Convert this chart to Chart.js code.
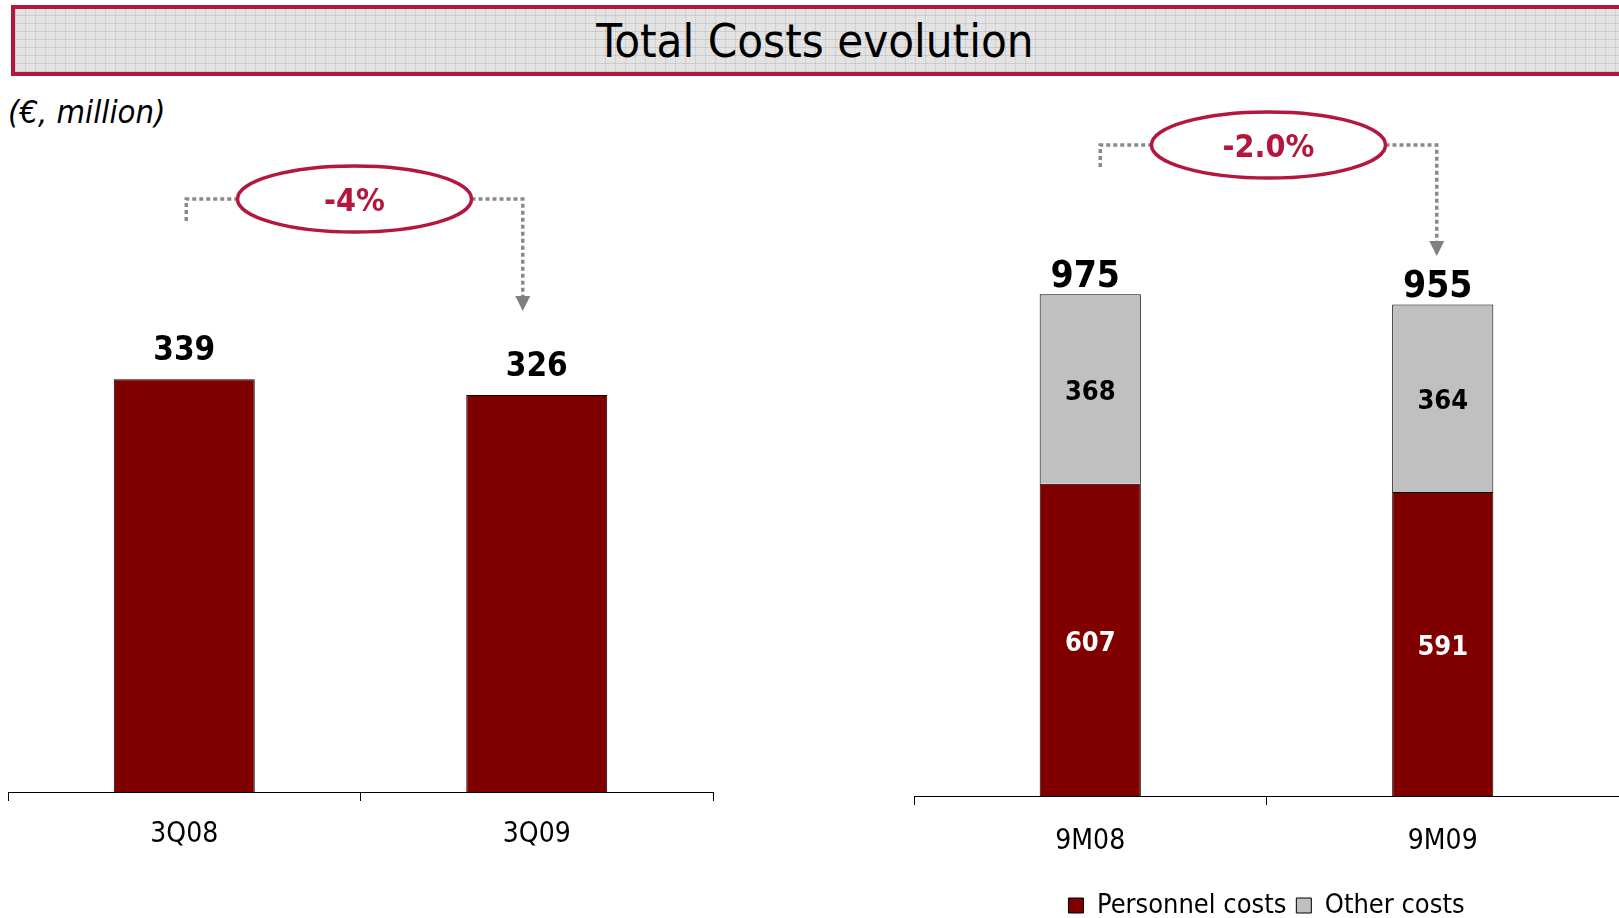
<!DOCTYPE html>
<html>
<head>
<meta charset="utf-8">
<script src="https://cdn.jsdelivr.net/npm/chart.js@4.4.1/dist/chart.umd.min.js"></script>
<style>
  html, body { margin:0; padding:0; background:#fff; overflow:hidden; }
  #page { position:relative; width:1619px; height:918px; overflow:hidden; background:#fff; }
  #titlebar {
    position:absolute; left:11px; top:5px; width:1640px; height:63px;
    border:4px solid #B3173E;
    background-color:#e3e3e3;
    background-image:
      repeating-linear-gradient(0deg, rgba(0,0,0,0.10) 0px, rgba(0,0,0,0.10) 1px, transparent 1px, transparent 8px),
      repeating-linear-gradient(90deg, rgba(0,0,0,0.08) 0px, rgba(0,0,0,0.08) 1px, transparent 1px, transparent 10px);
  }
  #titletext {
    position:absolute; left:0; top:9px; width:1619px; height:63px; line-height:63px;
    text-align:center; font-family:"DejaVu Sans Condensed","DejaVu Sans",sans-serif; font-size:47px; color:#000;
    padding-left:11px; box-sizing:border-box;
  }
  #unit {
    position:absolute; left:8px; top:93px; font-family:"DejaVu Sans Condensed","DejaVu Sans",sans-serif;
    font-style:italic; font-size:32.5px; color:#000;
  }
  canvas { position:absolute; }
  #cL { left:0px; top:80px; }
  #cR { left:900px; top:80px; }
</style>
</head>
<body>
<div id="page">
  <div id="titlebar"></div>
  <div id="titletext">Total Costs evolution</div>
  <div id="unit">(€, million)</div>
  <canvas id="cL" width="720" height="838"></canvas>
  <canvas id="cR" width="719" height="860"></canvas>
</div>
<script>
// ---- data ----
const quarterLabels = ['3Q08', '3Q09'];
const quarterTotals = [339, 326];
const quarterChange = '-4%';

const ninemLabels = ['9M08', '9M09'];
const personnelCosts = [607, 591];
const otherCosts = [368, 364];
const ninemTotals = [975, 955];
const ninemChange = '-2.0%';

// ---- style ----
const FAM = '"DejaVu Sans Condensed","DejaVu Sans",sans-serif';
const RED = '#800000';
const GREY = '#C0C0C0';
const CRIMSON = '#B3173E';

Chart.defaults.font.family = FAM;
Chart.defaults.color = '#000';

const labelsPlugin = {
  id: 'valueLabels',
  afterDatasetsDraw(chart, args, opts) {
    const ctx = chart.ctx;
    ctx.save();
    ctx.textAlign = 'center';
    ctx.textBaseline = 'middle';
    const n = chart.data.labels.length;
    const metas = chart.data.datasets.map((d, i) => chart.getDatasetMeta(i));
    if (opts.inner) {
      chart.data.datasets.forEach((ds, di) => {
        metas[di].data.forEach((bar, i) => {
          ctx.font = 'bold ' + opts.innerSize + 'px ' + FAM;
          ctx.fillStyle = opts.innerColors[di];
          ctx.fillText(String(ds.data[i]), bar.x, (bar.y + bar.base) / 2 + opts.innerDy);
        });
      });
    }
    for (let i = 0; i < n; i++) {
      const top = metas[metas.length - 1].data[i];
      ctx.font = 'bold ' + opts.totalSize + 'px ' + FAM;
      ctx.fillStyle = '#000';
      ctx.fillText(String(opts.totals[i]), top.x + opts.totalDx, top.y - opts.totalGap);
    }
    ctx.restore();
  }
};

const changePlugin = {
  id: 'changeAnno',
  afterDraw(chart, args, o) {
    const ctx = chart.ctx;
    const meta = chart.getDatasetMeta(chart.data.datasets.length - 1);
    const b0 = meta.data[0], b1 = meta.data[1];
    const x0 = b0.x + o.dx0, x1 = b1.x + o.dx1;
    const cx = (b0.x + b1.x) / 2 + o.dcx, cy = o.cy;
    ctx.save();
    ctx.strokeStyle = '#8a8a8a';
    ctx.lineWidth = 3.5;
    ctx.setLineDash([4, 3]);
    ctx.beginPath();
    ctx.moveTo(x0, cy + o.leftDrop);
    ctx.lineTo(x0, cy);
    ctx.lineTo(cx - o.rx, cy);
    ctx.moveTo(cx + o.rx, cy);
    ctx.lineTo(x1, cy);
    ctx.lineTo(x1, o.tipY - 14);
    ctx.stroke();
    ctx.setLineDash([]);
    ctx.fillStyle = '#808080';
    ctx.beginPath();
    ctx.moveTo(x1 - 7.5, o.tipY - 15);
    ctx.lineTo(x1 + 7.5, o.tipY - 15);
    ctx.lineTo(x1, o.tipY);
    ctx.closePath();
    ctx.fill();
    ctx.fillStyle = '#fff';
    ctx.strokeStyle = CRIMSON;
    ctx.lineWidth = 3.5;
    ctx.beginPath();
    ctx.ellipse(cx, cy, o.rx, o.ry, 0, 0, Math.PI * 2);
    ctx.fill();
    ctx.stroke();
    ctx.fillStyle = CRIMSON;
    ctx.font = 'bold 32px ' + FAM;
    ctx.textAlign = 'center';
    ctx.textBaseline = 'middle';
    ctx.fillText(o.text, cx, cy + 4);
    ctx.restore();
  }
};

function xAxis(h, pad) {
  return {
    grid: { display: true, drawOnChartArea: false, drawTicks: true, tickLength: 9, color: '#000', lineWidth: 1, offset: true },
    border: { display: true, color: '#000', width: 1 },
    ticks: { font: { size: 28, family: FAM }, color: '#000', padding: pad },
    afterFit(s) { s.height = h; }
  };
}

new Chart(document.getElementById('cL'), {
  type: 'bar',
  data: {
    labels: quarterLabels,
    datasets: [{
      label: 'Total costs', data: quarterTotals,
      backgroundColor: RED, borderColor: '#000', borderWidth: 1,
      barPercentage: 0.8, categoryPercentage: 0.5
    }]
  },
  options: {
    responsive: false, animation: false, devicePixelRatio: 1,
    layout: { padding: { left: 8, right: 7, top: 164, bottom: 66 } },
    plugins: {
      legend: { display: false }, tooltip: { enabled: false },
      valueLabels: { inner: false, totals: quarterTotals, totalSize: 33, totalGap: 28, totalDx: 0 },
      changeAnno: { text: quarterChange, cy: 119, rx: 117, ry: 33, dx0: 2, dx1: -14, dcx: -6, leftDrop: 22, tipY: 231 }
    },
    scales: {
      x: xAxis(60, 17),
      y: { display: false, min: 0, max: 450 }
    }
  },
  plugins: [labelsPlugin, changePlugin]
});

new Chart(document.getElementById('cR'), {
  type: 'bar',
  data: {
    labels: ninemLabels,
    datasets: [
      { label: 'Personnel costs', data: personnelCosts, backgroundColor: RED, borderColor: '#000', borderWidth: 1,
        barPercentage: 1, categoryPercentage: 0.287 },
      { label: 'Other costs', data: otherCosts, backgroundColor: GREY, borderColor: '#000', borderWidth: 1,
        barPercentage: 1, categoryPercentage: 0.287 }
    ]
  },
  options: {
    responsive: false, animation: false, devicePixelRatio: 1,
    layout: { padding: { left: 14, right: 0, top: 150, bottom: 11 } },
    plugins: {
      legend: {
        display: true, position: 'bottom',
        labels: { boxWidth: 15, boxHeight: 15, font: { size: 27, family: FAM }, color: '#000', padding: 10 }
      },
      tooltip: { enabled: false },
      valueLabels: { inner: true, innerSize: 27, innerDy: 4, innerColors: ['#fff', '#000'], totals: ninemTotals, totalSize: 37, totalGap: 17, totalDx: -5 },
      changeAnno: { text: ninemChange, cy: 65, rx: 117, ry: 33, dx0: 10, dx1: -6, dcx: 2, leftDrop: 22, tipY: 176 }
    },
    scales: {
      x: Object.assign(xAxis(86, 20), { stacked: true }),
      y: { display: false, stacked: true, min: 0, max: 1100 }
    }
  },
  plugins: [labelsPlugin, changePlugin]
});
</script>
</body>
</html>
